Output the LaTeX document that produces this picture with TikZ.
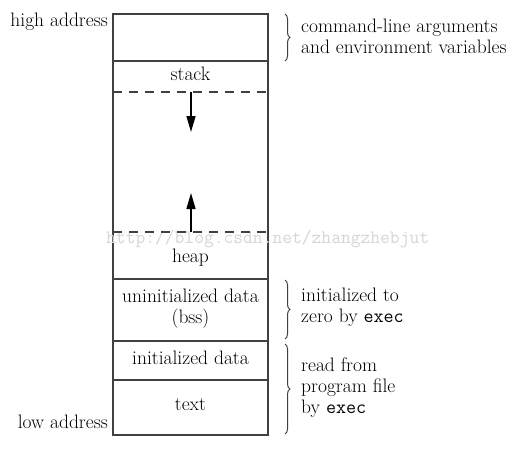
\documentclass[tikz,border=0pt]{standalone}
\usetikzlibrary{decorations.pathreplacing,arrows.meta}
\begin{document}
\begin{tikzpicture}[x=1pt,y=-1pt,
  every node/.style={font=\fontsize{19.5}{21}\selectfont, text=black, inner sep=0pt},
  seg/.style={draw=black!75, line width=1.3pt, minimum width=155pt},
  lbl/.style={anchor=west, align=left},
  brc/.style={draw=black!75, line width=1pt, decorate, decoration={brace, amplitude=5pt}},
  growarrow/.style={draw=black, line width=1.4pt, -{Triangle[length=16pt,width=9pt]}},
  dsh/.style={draw=black!75, line width=1.3pt, dash pattern=on 9pt off 7pt}]
\useasboundingbox (0,0) rectangle (524,458);
\fill[white] (0,0) rectangle (524,458);
% segments
\node[seg, minimum height=47pt] (args) at (190.5,37.5) {};
\node[seg, minimum height=218pt] (mid) at (190.5,170) {};
\node[seg, minimum height=62pt] (bss) at (190.5,310) {};
\node[seg, minimum height=39pt] (data) at (190.5,360.5) {};
\node[seg, minimum height=55pt] (txt) at (190.5,407.5) {};
% watermark
\node[anchor=west, text=black!16, font=\fontsize{19}{20}\ttfamily] (wm) at (106,239) {http://blog.csdn.net/zhangzhebjut};
% labels in segments
\node (stack) at (190.5,74) {stack};
\node (heap) at (190.5,258) {heap};
\node[align=center] (bsslbl) at (190.5,309) {uninitialized data\\(bss)};
\node (datalbl) at (190.5,358) {initialized data};
\node (txtlbl) at (190.5,405) {text};
% dashed lines
\coordinate (d1l) at (113,92); \coordinate (d1r) at (268,92);
\coordinate (d2l) at (113,232); \coordinate (d2r) at (268,232);
\draw[dsh] (d1l) -- (d1r);
\draw[dsh] (d2l) -- (d2r);
% arrows
\coordinate (a1s) at (191,92); \coordinate (a1e) at (191,132);
\coordinate (a2s) at (191,232); \coordinate (a2e) at (191,193);
\draw[growarrow] (a1s) -- (a1e);
\draw[growarrow] (a2s) -- (a2e);
% address labels
\node[anchor=east] (high) at (108,22) {high address};
\node[anchor=east] (low) at (108,422) {low address};
% braces
\coordinate (b1t) at (285,14); \coordinate (b1b) at (285,61);
\coordinate (b2t) at (285,280); \coordinate (b2b) at (285,339);
\coordinate (b3t) at (285,344); \coordinate (b3b) at (285,434);
\draw[brc] (b1t) -- (b1b);
\draw[brc] (b2t) -- (b2b);
\draw[brc] (b3t) -- (b3b);
\node[lbl] (argtxt) at (301,36) {command-line arguments\\and environment variables};
\node[lbl] (zerotxt) at (301,307) {initialized to\\zero by \texttt{exec}};
\node[lbl] (readtxt) at (301,388) {read from\\program file\\by \texttt{exec}};
\end{tikzpicture}
\end{document}
